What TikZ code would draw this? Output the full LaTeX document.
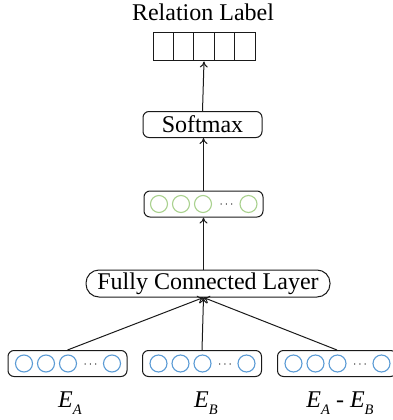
\documentclass[tikz,border=0pt]{standalone}
\usepackage{fontspec}
\setmainfont{Liberation Serif}
\usetikzlibrary{arrows.meta,calc}
\definecolor{cblue}{HTML}{5B9BD5}
\definecolor{cgreen}{HTML}{A9D18E}
\definecolor{lc}{HTML}{1A1A1A}
\newcommand{\Esym}[1]{\textit{E}\raisebox{-7.5pt}{\fontsize{14.5}{15}\selectfont\textit{#1}}}
\begin{document}
\begin{tikzpicture}[x=1pt,y=-1pt,
  txt/.style={font=\fontsize{24}{27}\selectfont, inner sep=0pt},
  box/.style={draw=lc, line width=1pt, rounded corners=6pt, inner sep=0pt, minimum width=119pt, minimum height=26pt},
  cellbox/.style={draw=lc, line width=1pt, inner sep=0pt, minimum width=20.4pt, minimum height=28pt},
  unit/.style={circle, draw=#1, line width=1.1pt, minimum size=17pt, inner sep=0pt},
  dots/.style={inner sep=0pt, font=\fontsize{12}{14}\selectfont},
  arr/.style={draw=lc, line width=1pt, -{To[length=6pt,width=8pt]}}]
\useasboundingbox (0,0) rectangle (393,420);

% title and output cells
\node[txt, anchor=base] (title) at (203,21) {Relation Label};
\foreach \i in {1,...,5} {
  \node[cellbox] (cell\i) at ({153+10.2+20.4*(\i-1)},47) {};
}

% softmax
\node[box, txt] (softmax) at (202.5,124.5) {Softmax};

% hidden layer (green)
\node[box] (hid) at (203.5,204) {};
\foreach \k/\dx in {1/15.5,2/37.5,3/59.5,5/105} {
  \node[unit=cgreen] (h\k) at ($(hid.west)+(\dx,0)$) {};
}
\node[dots] (hd) at ($(hid.west)+(83,1)$) {$\cdots$};

% fully connected layer
\node[draw=lc, line width=1pt, rounded corners=13pt, txt, minimum width=244pt, minimum height=27pt] (fc) at (208,283.5) {Fully Connected Layer};

% input boxes
\foreach \b/\cx in {a/67.5,b/202,c/337} {
  \node[box] (in\b) at (\cx,363.5) {};
  \foreach \k/\dx in {1/16.5,2/38.5,3/60.5,5/104.5} {
    \node[unit=cblue] (in\b\k) at ($(in\b.west)+(\dx,0)$) {};
  }
  \node[dots] (in\b d) at ($(in\b.west)+(83,1)$) {$\cdots$};
}

% labels
\node[txt, anchor=base] (la) at (70,407) {\Esym{A}};
\node[txt, anchor=base] (lb) at (206,407) {\Esym{B}};
\node[txt, anchor=base] (lcx) at (340,407) {\Esym{A} - \Esym{B}};

% connectors
\coordinate (fcin) at (hid |- fc.south);
\draw[arr] (ina.north) -- (fcin);
\draw[arr] (inb.north) -- (fcin);
\draw[arr] (inc.north) -- (fcin);
\draw[arr] (hid |- fc.north) -- (hid.south);
\draw[arr] (hid.north) -- (hid |- softmax.south);
\draw[arr] (softmax.north) -- (cell3.south);
\end{tikzpicture}
\end{document}
